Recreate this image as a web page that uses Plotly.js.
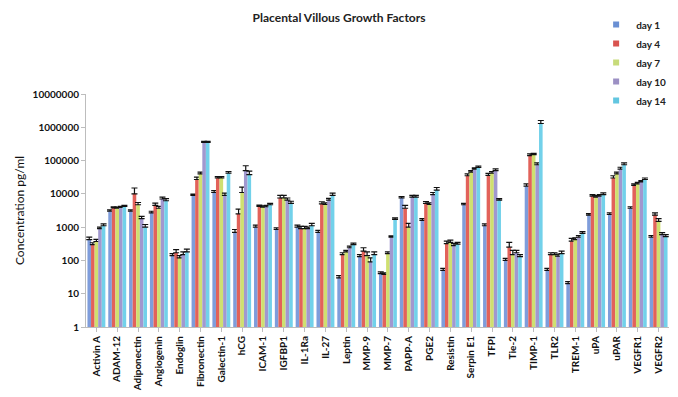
<!DOCTYPE html>
<html>
<head>
<meta charset="utf-8">
<script src="https://cdn.plot.ly/plotly-3.0.1.min.js"></script>
<style>
  html, body { margin: 0; padding: 0; background: #fff; }
  #chart { width: 678px; height: 397px; }
</style>
</head>
<body>
<div id="chart"></div>
<script>
// Growth factor concentrations (pg/ml) measured in placental villous culture
const categories = ["Activin A","ADAM-12","Adiponectin","Angiogenin","Endoglin","Fibronectin","Galectin-1","hCG","ICAM-1","IGFBP1","IL-1Ra","IL-27","Leptin","MMP-9","MMP-7","PAPP-A","PGE2","Resistin","Serpin E1","TFPI","Tie-2","TIMP-1","TLR2","TREM-1","uPA","uPAR","VEGFR1","VEGFR2"];

const seriesNames = ["day 1","day 4","day 7","day 10","day 14"];

const day1  = [420,3000,3000,2700,140,9000,11000,700,1000,850,1000,700,30,130,40,7500,1600,50,4700,1100,100,17000,50,20,2300,2400,3700,500];
const day4  = [300,3800,10000,4500,170,27000,30000,2500,4200,7500,900,5000,150,190,38,3700,5200,320,35000,36000,250,140000,150,380,8500,30000,18000,2300];
const day7  = [370,3700,4700,3700,120,40000,30000,11000,4000,7500,900,4800,180,140,160,1000,4800,350,45000,42000,150,150000,150,420,8000,40000,20000,1500];
const day10 = [900,3900,1800,7000,150,350000,9000,50000,4100,6500,900,6500,240,90,500,8000,9500,280,55000,50000,170,75000,135,500,8500,55000,23000,600];
const day14 = [1100,4200,1000,6200,180,350000,42000,38000,4700,5200,1100,9000,300,150,1700,8000,13000,310,62000,6500,130,1300000,160,650,9500,75000,27000,520];

// Upper error (SEM) for each series
const err1  = [80,300,300,300,20,800,1500,150,150,100,150,100,5,20,5,800,200,8,500,150,15,3000,8,3,250,300,400,60];
const err4  = [40,300,5000,800,40,5000,3000,1000,400,1500,150,800,20,50,4,800,700,60,5000,5000,100,20000,20,80,1000,5000,2000,400];
const err7  = [60,300,800,500,20,5000,3000,5000,400,1500,150,600,20,40,20,300,600,60,5000,5000,50,15000,20,60,800,5000,2000,300];
const err10 = [100,300,300,1000,30,30000,1500,20000,400,1000,100,800,30,30,50,1000,1500,40,5000,6000,30,10000,20,60,1000,8000,2000,80];
const err14 = [150,300,200,1000,40,30000,5000,10000,500,800,200,1500,30,30,200,1000,2500,40,6000,700,20,300000,30,80,1200,10000,3000,80];

const yTickVals = [1,10,100,1000,10000,100000,1000000,10000000];
const yTickText = ["1","10","100","1000","10000","100000","1000000","10000000"];

const values = [day1, day4, day7, day10, day14];
const errors = [err1, err4, err7, err10, err14];
const colors = ["#7f9ddb","#e2625a","#cfe070","#a198cf","#72d1ea"];
const keyColors = ["#6a8fd3","#d9534f","#c7db7a","#9c90c4","#62c6e0"];

const zeros = categories.map(() => 0);

const bars = seriesNames.map((name, i) => ({
  type: "bar",
  name: name,
  x: categories,
  y: values[i],
  showlegend: false,
  marker: { color: colors[i], line: { width: 0 } },
  error_y: {
    type: "data",
    symmetric: false,
    array: errors[i],
    arrayminus: zeros,
    color: "#111",
    thickness: 1.2,
    width: 3
  }
}));

// Small square keys for the legend
const keys = seriesNames.map((name, i) => ({
  type: "scatter",
  mode: "markers",
  name: name,
  x: [null],
  y: [null],
  legendgroup: name,
  marker: { symbol: "square", size: 6, color: keyColors[i] }
}));

const font = "Lato, 'Open Sans', sans-serif";

const layout = {
  width: 678,
  height: 397,
  margin: { l: 86, r: 7, t: 94, b: 70 },
  paper_bgcolor: "#fff",
  plot_bgcolor: "#fff",
  barmode: "group",
  bargap: 0.14,
  bargroupgap: 0,
  title: {
    text: "<b>Placental Villous Growth Factors</b>",
    font: { family: font, size: 12, color: "#222" },
    x: 0.5, xref: "container", xanchor: "center",
    y: 0.955, yref: "container", yanchor: "middle"
  },
  xaxis: {
    type: "category",
    tickangle: -90,
    tickfont: { family: font, size: 10, color: "#111", weight: "bold" },
    showline: true, linecolor: "#bdbdbd", linewidth: 1,
    ticks: "outside", tickcolor: "#bdbdbd", ticklen: 4,
    showgrid: false, zeroline: false,
    automargin: false
  },
  yaxis: {
    type: "log",
    range: [0, 7],
    tickvals: yTickVals,
    ticktext: yTickText,
    tickfont: { family: font, size: 10, color: "#111", weight: "bold" },
    showline: true, linecolor: "#bdbdbd", linewidth: 1,
    ticks: "outside", tickcolor: "#bdbdbd", ticklen: 4,
    showgrid: false, zeroline: false,
    title: { text: "Concentration pg/ml", font: { family: font, size: 12, color: "#111" }, standoff: 5 },
    automargin: false
  },
  showlegend: true,
  legend: {
    x: 0.875, xanchor: "left",
    y: 1.36, yanchor: "top",
    bgcolor: "rgba(0,0,0,0)",
    font: { family: font, size: 10, color: "#222", weight: "bold" },
    traceorder: "grouped",
    tracegroupgap: 0,
    itemwidth: 30
  }
};

Plotly.newPlot("chart", bars.concat(keys), layout, { displayModeBar: false, staticPlot: true });
</script>
</body>
</html>
